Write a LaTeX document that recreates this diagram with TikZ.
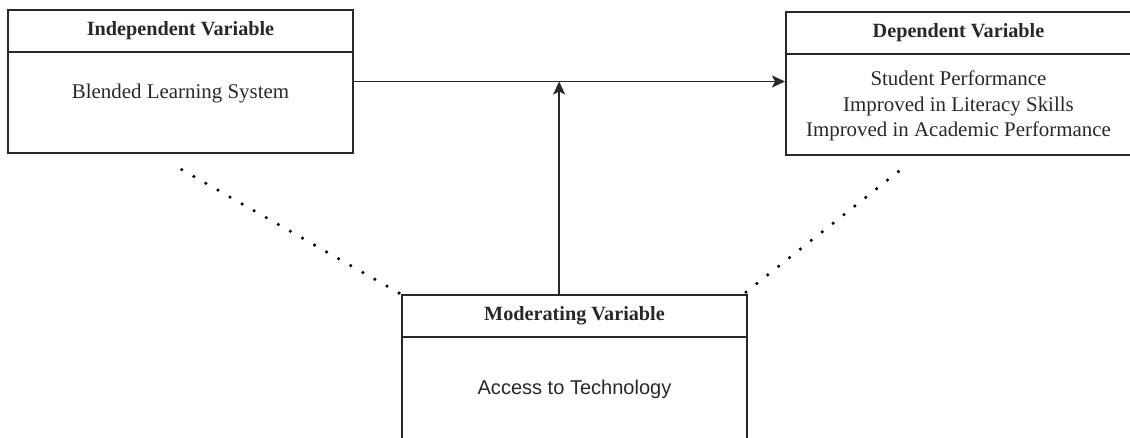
\documentclass[tikz,border=0pt]{standalone}
\usepackage{fontspec}
\setmainfont{Liberation Serif}
\newfontfamily\arialfont{Liberation Sans}
\usetikzlibrary{arrows.meta, positioning, calc}
\definecolor{inkgray}{RGB}{40, 40, 40}

\tikzset{
  varbox/.style={draw=inkgray, line width=1.1pt, minimum width=6.9cm, minimum height=2.86cm, inner sep=0pt},
  varhead/.style={draw=inkgray, line width=1.1pt, minimum width=6.9cm, minimum height=0.84cm, inner sep=0pt,
    anchor=north, text=inkgray, font=\bfseries\fontsize{11.5}{14}\selectfont},
  vartext/.style={align=center, inner sep=0pt, text=inkgray, font=\fontsize{11.9}{14.7}\selectfont},
  link/.style={draw=inkgray, line width=1.1pt, -{Stealth[length=2.6mm, width=2.4mm, inset=0.6mm]}},
  dotlink/.style={draw=black, line width=2pt, line cap=round, dash pattern=on 0pt off 7.9pt}
}

\begin{document}
\begin{tikzpicture}[scale=1.0]
        \useasboundingbox (0,0) rectangle (22.6,8.74);
        \clip (0,0) rectangle (22.6,8.74);
        % the three variable boxes
        \node[varbox] (indep) at (3.61,7.11) {};
        \node[varhead] (indephead) at (indep.north) {Independent Variable};
        \node[vartext] (indeptext) at ($(indephead.south)+(0,-0.81)$) {Blended Learning System};

        \node[varbox] (dep) at (19.17,7.07) {};
        \node[varhead] (dephead) at (dep.north) {Dependent Variable};
        \node[vartext] (deptext) at ($(dephead.south)+(0,-1.02)$)
          {Student Performance\\Improved in Literacy Skills\\Improved in Academic Performance};

        \node[varbox, minimum height=3.0cm] (moder) at (11.49,1.34) {};
        \node[varhead] (moderhead) at (moder.north) {Moderating Variable};
        \node[vartext, font=\arialfont\fontsize{11.4}{14}\selectfont] (modertext)
          at ($(moderhead.south)+(0,-1.02)$) {Access to Technology};

        % arrows
        \coordinate (junction) at ($(indep.east)!0.476!(indep.east -| dep.west)$);
        \draw[link] (indep.east) -- (indep.east -| dep.west);
        \draw[link] (moder.north -| junction) -- (junction);

        % dotted links to the moderator
        \coordinate (indepfoot) at ($(indep.south west)+(3.26,-0.18)$);
        \coordinate (depfoot) at ($(dep.south west)+(2.46,-0.16)$);
        \draw[dotlink] ($(moder.north west)+(-0.04,0.02)$) -- (indepfoot);
        \draw[dotlink] ($(moder.north east)+(-0.04,0.04)$) -- (depfoot);
      \end{tikzpicture}
\end{document}
